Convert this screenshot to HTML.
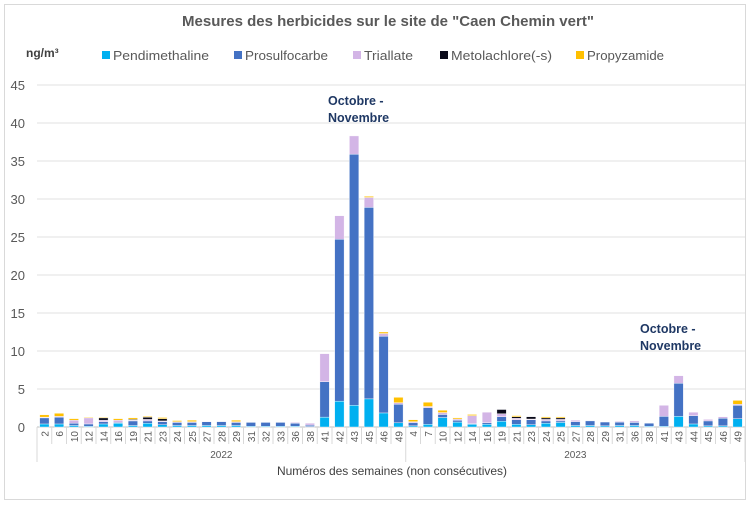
<!DOCTYPE html>
<html><head><meta charset="utf-8"><style>
body{margin:0;background:#fff;font-family:"Liberation Sans",sans-serif}
svg text{font-family:"Liberation Sans",sans-serif}
</style></head><body>
<svg id="c" width="750" height="506">
<rect x="4.5" y="4.5" width="741" height="495" fill="#fff" stroke="#d9d9d9"/>
<text x="388" y="26" text-anchor="middle" font-size="15" font-weight="bold" fill="#595959">Mesures des herbicides sur le site de "Caen Chemin vert"</text>
<text x="26" y="57" font-size="12" font-weight="bold" fill="#404040">ng/m³</text>
<g id="legend"></g>
<g id="grid"></g>
<g id="bars"></g>
<g id="xaxis"></g>
<text x="328" y="105" font-size="12.5" font-weight="bold" fill="#1f3864">Octobre -</text>
<text x="328" y="122" font-size="12.5" font-weight="bold" fill="#1f3864">Novembre</text>
<text x="640" y="333" font-size="12.5" font-weight="bold" fill="#1f3864">Octobre -</text>
<text x="640" y="350" font-size="12.5" font-weight="bold" fill="#1f3864">Novembre</text>
<text x="392" y="475" text-anchor="middle" font-size="12" fill="#404040">Numéros des semaines (non consécutives)</text>
</svg>
<script>
const weeks2022=["2","6","10","12","14","16","19","21","23","24","25","27","28","29","31","32","33","36","38","41","42","43","45","46","49"];
const weeks2023=["4","7","10","12","14","16","19","21","23","24","25","27","28","29","31","36","38","41","43","44","45","46","49"];
const seriesNames=["Pendimethaline","Prosulfocarbe","Triallate","Metolachlore(-s)","Propyzamide"];
const seriesColors=["#00b0f0","#4472c4","#d3b5e6","#0a0a1a","#ffc000"];
const pend=[0.4,0.4,0.2,0.1,0.4,0.5,0.2,0.5,0.3,0.2,0.2,0.2,0.2,0.2,0.1,0.1,0.1,0.1,0.05,1.3,3.4,2.85,3.7,1.85,0.55,
 0.15,0.35,1.25,0.65,0.35,0.35,0.75,0.35,0.3,0.5,0.6,0.2,0.2,0.15,0.2,0.2,0.1,0.1,1.4,0.4,0.15,0.15,1.1];
const pros=[0.8,0.9,0.3,0.3,0.3,0.1,0.6,0.3,0.4,0.4,0.4,0.5,0.5,0.4,0.5,0.5,0.5,0.4,0.2,4.65,21.3,33.05,25.2,10.1,2.45,
 0.4,2.2,0.4,0.25,0.1,0.2,0.6,0.6,0.65,0.3,0.2,0.5,0.6,0.5,0.45,0.4,0.4,1.3,4.35,1.1,0.65,1.0,1.75];
const tria=[0.1,0.1,0.4,0.8,0.2,0.3,0.1,0.2,0.1,0.1,0.1,0.05,0,0.1,0,0,0,0.1,0.25,3.7,3.1,2.4,1.3,0.35,0.2,
 0.15,0.15,0.25,0.15,1.05,1.4,0.4,0.2,0.1,0.2,0.2,0.2,0,0,0.1,0.2,0,1.45,1.0,0.45,0.2,0.2,0.15];
const meto=[0,0,0,0,0.3,0,0.1,0.3,0.3,0,0,0,0,0,0,0,0,0,0,0,0,0,0,0,0,
 0,0,0,0,0,0,0.55,0.2,0.3,0.2,0.2,0,0,0,0,0,0,0,0,0,0,0,0];
const prop=[0.3,0.4,0.2,0.1,0.1,0.2,0.2,0.1,0.15,0.15,0.2,0,0,0.2,0,0,0,0,0,0,0,0,0.15,0.2,0.7,
 0.25,0.55,0.3,0.15,0.15,0,0,0.15,0,0.15,0.15,0,0,0,0,0,0,0,0,0,0,0,0.5];
const yTicks=[0,5,10,15,20,25,30,35,40,45];

const NS="http://www.w3.org/2000/svg";
function mk(p,t,a){const e=document.createElementNS(NS,t);for(const k in a)e.setAttribute(k,a[k]);p.appendChild(e);return e;}
const L=37,R=745,T=85,B=427,yMax=45;
const cats=weeks2022.concat(weeks2023);
const bw=(R-L)/cats.length;
function y(v){return B-v/yMax*(B-T);}
function x(i){return L+i*bw;}
const grid=document.getElementById('grid');
yTicks.forEach(t=>{
 const l=mk(grid,'line',{x1:L,x2:R,y1:y(t),y2:y(t),stroke:t===0?'#bfbfbf':'#e0e0e0'});
 
 
 const tx=mk(grid,'text',{x:25,y:y(t)+5,'text-anchor':'end','font-size':'13',fill:'#595959'});
 tx.textContent=t;
 
 
});
const bars=document.getElementById('bars');
const series=[pend,pros,tria,meto,prop];
cats.forEach((c,i)=>{
 let acc=0;
 series.forEach((s,k)=>{
  const v=s[i];if(!v)return;
  const r=mk(bars,'rect',{x:x(i)+bw*0.18,width:bw*0.64,y:y(acc+v),height:y(acc)-y(acc+v),fill:seriesColors[k],stroke:'#fff','stroke-width':0.4});
  
  
  acc+=v;
 });
});
const xa=document.getElementById('xaxis');
cats.forEach((c,i)=>{
 const cx=x(i)+bw/2;
 const t=mk(xa,'text',{x:0,y:0,transform:`translate(${cx+4},${431}) rotate(-90)`,'text-anchor':'end','font-size':'10',fill:'#595959'});
 t.textContent=c;
 
 
 const isYear=(i===0||i===weeks2022.length);
 const l=mk(xa,'line',{x1:x(i),x2:x(i),y1:B,y2:isYear?462:444,stroke:'#d9d9d9'});
 
 
});
mk(xa,'line',{x1:R,x2:R,y1:B,y2:462,stroke:'#d9d9d9'});
[[0,weeks2022.length,'2022'],[weeks2022.length,cats.length,'2023']].forEach(g=>{
 const t=mk(xa,'text',{x:(x(g[0])+x(g[1]))/2,y:458,'text-anchor':'middle','font-size':'10',fill:'#595959'});
 t.textContent=g[2];
 
 
});
const lg=document.getElementById('legend');
const lx=[102,234,353,440,576];
const lw=[96,83,49,101,77];
seriesNames.forEach((n,k)=>{
 const r=mk(lg,'rect',{x:lx[k],y:51,width:8,height:8,fill:seriesColors[k]});
 
 
 const t=mk(lg,'text',{x:lx[k]+11,y:60,'font-size':'12.5',fill:'#595959',textLength:lw[k],lengthAdjust:'spacingAndGlyphs'});
 t.textContent=n;
 
 
});
</script>
</body></html>
